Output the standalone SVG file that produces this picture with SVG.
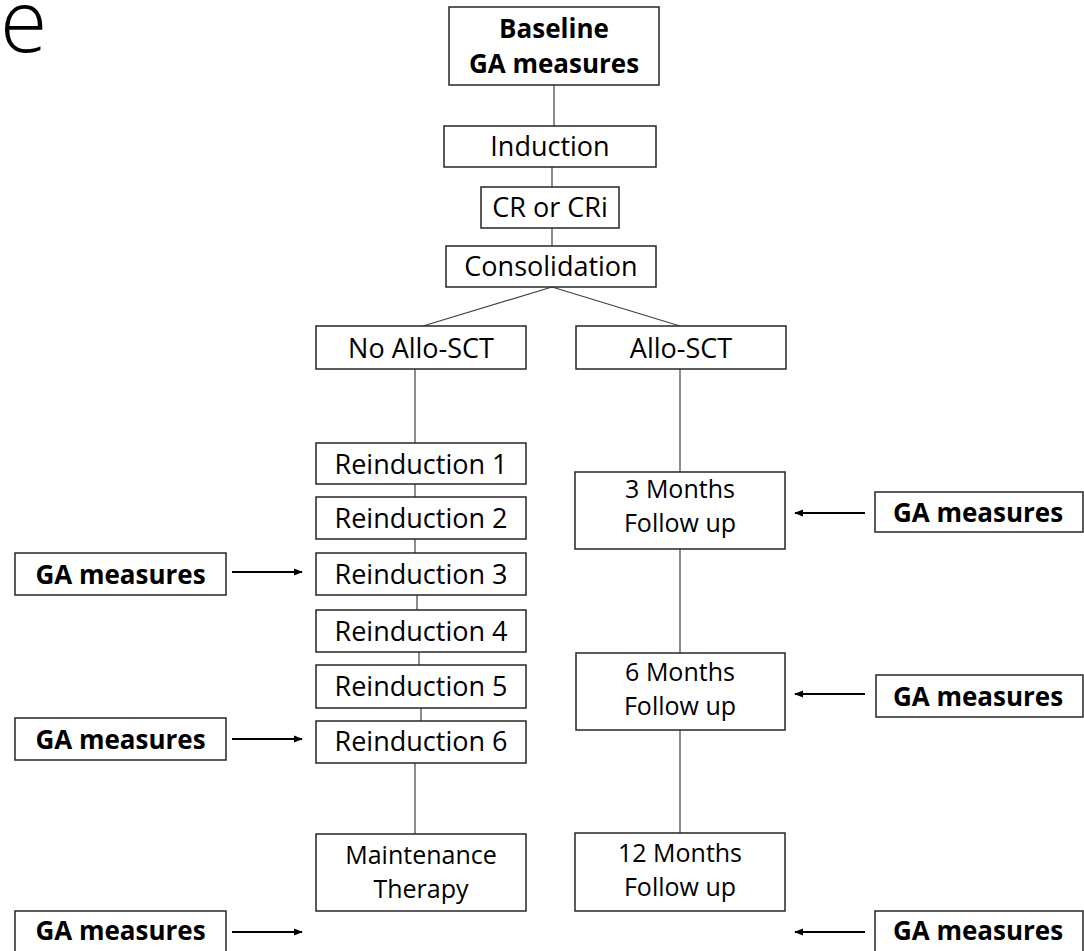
<svg xmlns="http://www.w3.org/2000/svg" width="1084" height="951" viewBox="0 0 1084 951">
<defs>
<style>
.box{fill:#fff;stroke:#262626;stroke-width:1.5}
.t{font-family:'Open Sans','Liberation Sans',sans-serif;font-size:27px;text-anchor:middle;fill:#000}
.t2{font-size:25px}
.b{font-weight:bold;font-size:26px}
.conn{stroke:#404040;stroke-width:1.2;fill:none}
.arr{stroke:#000;stroke-width:2;fill:none;marker-end:url(#ah)}
</style>
<marker id="ah" viewBox="0 0 10 10" refX="9" refY="5" markerWidth="4.5" markerHeight="4.5" orient="auto" markerUnits="strokeWidth">
<path d="M0,1 L10,5 L0,9 z" fill="#000"/>
</marker>
</defs>
<rect width="1084" height="951" fill="#fff"/>
<text x="0" y="52" font-family="'Open Sans',sans-serif" font-weight="300" font-size="86" fill="#000">e</text>
<g id="connectors">
<line class="conn" x1="554" y1="85" x2="554" y2="126"/>
<line class="conn" x1="552" y1="167" x2="552" y2="187"/>
<line class="conn" x1="552" y1="228" x2="552" y2="246"/>
<line class="conn" x1="552" y1="287" x2="423" y2="326"/>
<line class="conn" x1="552" y1="287" x2="680" y2="326"/>
<line class="conn" x1="415" y1="369" x2="415" y2="443"/>
<line class="conn" x1="415" y1="484" x2="415" y2="497"/>
<line class="conn" x1="415" y1="539" x2="415" y2="553"/>
<line class="conn" x1="417" y1="595" x2="417" y2="610"/>
<line class="conn" x1="419" y1="652" x2="419" y2="665"/>
<line class="conn" x1="421" y1="708" x2="421" y2="721"/>
<line class="conn" x1="415" y1="763" x2="415" y2="834"/>
<line class="conn" x1="680" y1="369" x2="680" y2="472"/>
<line class="conn" x1="680" y1="549" x2="680" y2="653"/>
<line class="conn" x1="680" y1="730" x2="680" y2="833"/>
<line class="arr" x1="232" y1="572" x2="302" y2="572"/>
<line class="arr" x1="232" y1="739" x2="302" y2="739"/>
<line class="arr" x1="232" y1="932" x2="302" y2="932"/>
<line class="arr" x1="865" y1="513" x2="795" y2="513"/>
<line class="arr" x1="865" y1="694" x2="795" y2="694"/>
<line class="arr" x1="865" y1="932" x2="795" y2="932"/>
</g>
<g id="baseline"><rect class="box" x="449" y="7" width="210" height="78"/><text class="t b" x="554" y="38">Baseline</text><text class="t b" x="554" y="73">GA measures</text></g>
<g id="induction"><rect class="box" x="444" y="126" width="212" height="41"/><text class="t" x="550" y="156">Induction</text></g>
<g id="cr"><rect class="box" x="481" y="187" width="138" height="41"/><text class="t" x="550" y="217">CR or CRi</text></g>
<g id="consolidation"><rect class="box" x="446" y="246" width="210" height="41"/><text class="t" x="551" y="276">Consolidation</text></g>
<g id="noallo"><rect class="box" x="316" y="326" width="210" height="43"/><text class="t" x="421" y="358">No Allo-SCT</text></g>
<g id="allo"><rect class="box" x="576" y="326" width="210" height="43"/><text class="t" x="681" y="358">Allo-SCT</text></g>
<g id="reind1"><rect class="box" x="316" y="443" width="210" height="41"/><text class="t" x="421" y="474">Reinduction 1</text></g>
<g id="reind2"><rect class="box" x="316" y="497" width="210" height="42"/><text class="t" x="421" y="528">Reinduction 2</text></g>
<g id="reind3"><rect class="box" x="316" y="553" width="210" height="42"/><text class="t" x="421" y="584">Reinduction 3</text></g>
<g id="reind4"><rect class="box" x="316" y="610" width="210" height="42"/><text class="t" x="421" y="641">Reinduction 4</text></g>
<g id="reind5"><rect class="box" x="316" y="665" width="210" height="43"/><text class="t" x="421" y="696">Reinduction 5</text></g>
<g id="reind6"><rect class="box" x="316" y="721" width="210" height="42"/><text class="t" x="421" y="751">Reinduction 6</text></g>
<g id="maintenance"><rect class="box" x="316" y="834" width="210" height="77"/><text class="t t2" x="421" y="864">Maintenance</text><text class="t t2" x="421" y="898">Therapy</text></g>
<g id="m3"><rect class="box" x="575" y="472" width="210" height="77"/><text class="t t2" x="680" y="498">3 Months</text><text class="t t2" x="680" y="532">Follow up</text></g>
<g id="m6"><rect class="box" x="576" y="653" width="209" height="77"/><text class="t t2" x="680" y="681">6 Months</text><text class="t t2" x="680" y="715">Follow up</text></g>
<g id="m12"><rect class="box" x="575" y="833" width="210" height="78"/><text class="t t2" x="680" y="862">12 Months</text><text class="t t2" x="680" y="896">Follow up</text></g>
<g id="ga-left1"><rect class="box" x="15" y="553" width="211" height="42"/><text class="t b" x="120.5" y="584">GA measures</text></g>
<g id="ga-left2"><rect class="box" x="15" y="718" width="211" height="42"/><text class="t b" x="120.5" y="749">GA measures</text></g>
<g id="ga-left3"><rect class="box" x="15" y="911" width="211" height="50"/><text class="t b" x="120.5" y="940">GA measures</text></g>
<g id="ga-right1"><rect class="box" x="875" y="492" width="208" height="40"/><text class="t b" x="978" y="522">GA measures</text></g>
<g id="ga-right2"><rect class="box" x="876" y="675" width="207" height="42"/><text class="t b" x="978" y="706">GA measures</text></g>
<g id="ga-right3"><rect class="box" x="875" y="911" width="208" height="50"/><text class="t b" x="978" y="940">GA measures</text></g>
</svg>
